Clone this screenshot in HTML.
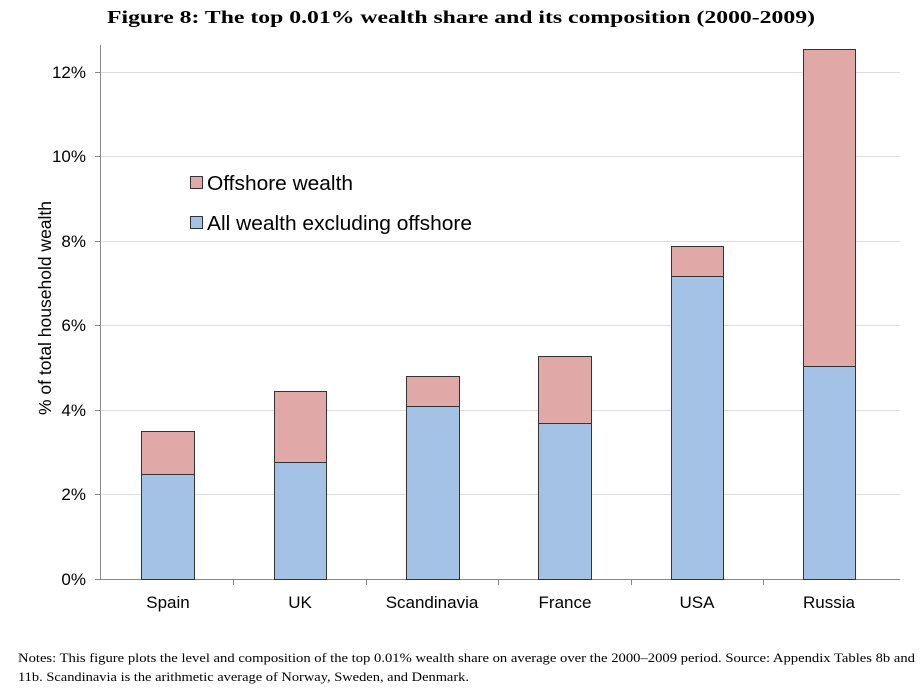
<!DOCTYPE html>
<html><head><meta charset="utf-8"><style>
body{margin:0;background:#fff;width:924px;height:693px;overflow:hidden}
svg{display:block}
</style></head><body>
<svg width="924" height="693" xmlns="http://www.w3.org/2000/svg">
<text x="107" y="23" textLength="708" lengthAdjust="spacingAndGlyphs" font-family="Liberation Serif, serif" font-weight="bold" font-size="18">Figure 8: The top 0.01% wealth share and its composition (2000-2009)</text>
<g stroke="#dddddd" stroke-width="1">
<line x1="100" y1="494.5" x2="900" y2="494.5"/>
<line x1="100" y1="410.5" x2="900" y2="410.5"/>
<line x1="100" y1="325.5" x2="900" y2="325.5"/>
<line x1="100" y1="241.5" x2="900" y2="241.5"/>
<line x1="100" y1="156.5" x2="900" y2="156.5"/>
<line x1="100" y1="72.5" x2="900" y2="72.5"/>
</g>
<g stroke="#888" stroke-width="1">
<line x1="100.5" y1="45" x2="100.5" y2="579"/>
<line x1="100" y1="579.5" x2="900" y2="579.5"/>
<line x1="95" y1="494.5" x2="100" y2="494.5"/><line x1="95" y1="410.5" x2="100" y2="410.5"/><line x1="95" y1="325.5" x2="100" y2="325.5"/><line x1="95" y1="241.5" x2="100" y2="241.5"/><line x1="95" y1="156.5" x2="100" y2="156.5"/><line x1="95" y1="72.5" x2="100" y2="72.5"/><line x1="95" y1="579.5" x2="100" y2="579.5"/>
<line x1="233.5" y1="579" x2="233.5" y2="585"/><line x1="366.5" y1="579" x2="366.5" y2="585"/><line x1="498.5" y1="579" x2="498.5" y2="585"/><line x1="631.5" y1="579" x2="631.5" y2="585"/><line x1="763.5" y1="579" x2="763.5" y2="585"/>
</g>
<g font-family="Liberation Sans, sans-serif" font-size="17" text-anchor="end" fill="#000">
<text x="86" y="585">0%</text><text x="86" y="500">2%</text><text x="86" y="416">4%</text><text x="86" y="331">6%</text><text x="86" y="247">8%</text><text x="86" y="162">10%</text><text x="86" y="78">12%</text>
</g>
<g stroke="#333" stroke-width="1">
<rect x="141.5" y="474.5" width="53" height="105" fill="#a3c2e6"/><rect x="141.5" y="431.5" width="53" height="43" fill="#e0a8a6"/>
<rect x="274.5" y="462.5" width="52" height="117" fill="#a3c2e6"/><rect x="274.5" y="391.5" width="52" height="71" fill="#e0a8a6"/>
<rect x="406.5" y="406.5" width="53" height="173" fill="#a3c2e6"/><rect x="406.5" y="376.5" width="53" height="30" fill="#e0a8a6"/>
<rect x="538.5" y="423.5" width="53" height="156" fill="#a3c2e6"/><rect x="538.5" y="356.5" width="53" height="67" fill="#e0a8a6"/>
<rect x="671.5" y="276.5" width="52" height="303" fill="#a3c2e6"/><rect x="671.5" y="246.5" width="52" height="30" fill="#e0a8a6"/>
<rect x="803.5" y="366.5" width="52" height="213" fill="#a3c2e6"/><rect x="803.5" y="49.5" width="52" height="317" fill="#e0a8a6"/>
<rect x="190.5" y="176.5" width="12" height="12" fill="#e0a8a6"/>
<rect x="190.5" y="216.5" width="12" height="12" fill="#a3c2e6"/>
</g>
<g font-family="Liberation Sans, sans-serif" font-size="17" text-anchor="middle">
<text x="168" y="608">Spain</text><text x="300" y="608">UK</text><text x="432" y="608">Scandinavia</text><text x="565" y="608">France</text><text x="697" y="608">USA</text><text x="829" y="608">Russia</text>
</g>
<g font-family="Liberation Sans, sans-serif" font-size="20.5">
<text x="207" y="190" textLength="146" lengthAdjust="spacingAndGlyphs">Offshore wealth</text>
<text x="207" y="230" textLength="265" lengthAdjust="spacingAndGlyphs">All wealth excluding offshore</text>
</g>
<text transform="translate(51,308) rotate(-90)" text-anchor="middle" font-family="Liberation Sans, sans-serif" font-size="17.5">% of total household wealth</text>
<g font-family="Liberation Serif, serif" font-size="12.5">
<text x="18" y="662" textLength="897" lengthAdjust="spacingAndGlyphs">Notes: This figure plots the level and composition of the top 0.01% wealth share on average over the 2000–2009 period. Source: Appendix Tables 8b and</text>
<text x="18" y="681" textLength="451" lengthAdjust="spacingAndGlyphs">11b. Scandinavia is the arithmetic average of Norway, Sweden, and Denmark.</text>
</g>
</svg>
</body></html>
